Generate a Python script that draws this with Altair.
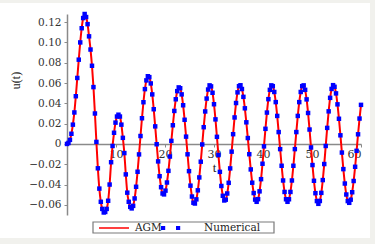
import altair as alt
import pandas as pd

# sample times (step 0.3) and values
t_values = [round(0.3 * i, 1) for i in range(201)]

u_agm = [
    0.0, 0.001, 0.004, 0.010, 0.019, 0.031, 0.047, 0.065, 0.083, 0.100, 0.114, 0.124, 0.128,
    0.125, 0.118, 0.106, 0.093, 0.077, 0.056, 0.030, 0.002, -0.024, -0.044, -0.057, -0.064, -0.0675, -0.067,
    -0.064, -0.056, -0.040, -0.018, -0.002, 0.011, 0.021, 0.027, 0.0288, 0.027,
    0.019, 0.006, -0.009, -0.030, -0.048, -0.057, -0.062, -0.0635,
    -0.061, -0.0537, -0.0422, -0.0274, -0.0103, 0.0078, 0.0253, 0.0411, 0.0540, 0.0626, 0.0667,
    0.0658, 0.0596, 0.0488, 0.0342, 0.0173, -0.0003, -0.0172, -0.0318, -0.0426, -0.0488,
    -0.0497, -0.046, -0.038, -0.0265, -0.0124, 0.003, 0.0184, 0.0325, 0.044, 0.052, 0.0557,
    0.0549, 0.0488, 0.0381, 0.0238, 0.0072, -0.0102, -0.0268, -0.0411, -0.0518, -0.0579,
    -0.0587, -0.0546, -0.0457, -0.0330, -0.0175, -0.0005, 0.0165, 0.0320, 0.0447, 0.0536, 0.0577,
    0.0567, 0.0504, 0.0391, 0.0242, 0.0070, -0.0109, -0.0275, -0.0414, -0.0511, -0.0557,
    -0.0549, -0.0488, -0.0383, -0.0241, -0.0076, 0.0096, 0.0261, 0.0403, 0.0508, 0.0569,
    0.0578, 0.0541, 0.0464, 0.0351, 0.0213, 0.0058, -0.0101, -0.0251, -0.0382, -0.0484, -0.0548,
    -0.0570, -0.0544, -0.0467, -0.0347, -0.0195, -0.0024, 0.0149, 0.0309, 0.0441, 0.0533, 0.0577,
    0.0569, 0.0512, 0.0412, 0.0276, 0.0117, -0.0051, -0.0215, -0.0360, -0.0473, -0.0545,
    -0.0570, -0.0545, -0.0473, -0.0360, -0.0215, -0.0051, 0.0117, 0.0276, 0.0412, 0.0512, 0.0569,
    0.0577, 0.0533, 0.0439, 0.0305, 0.0142, -0.0035, -0.0208, -0.0363, -0.0485, -0.0563,
    -0.0590, -0.0562, -0.0482, -0.0356, -0.0198, -0.0020, 0.0158, 0.0321, 0.0454, 0.0542, 0.0579,
    0.0563, 0.0498, 0.0390, 0.0248, 0.0085, -0.0085, -0.0248, -0.0390, -0.0498, -0.0563,
    -0.0580, -0.0549, -0.0476, -0.0365, -0.0225, -0.0068, 0.0095, 0.0250, 0.0385,
]
u_numerical = list(u_agm)

series_names = ["AGM", "Numerical"]
series_colors = ["#ff0000", "#0000ff"]
x_ticks = [10, 20, 30, 40, 50, 60]
y_ticks = [-0.06, -0.04, -0.02, 0, 0.02, 0.04, 0.06, 0.08, 0.10, 0.12]

agm_df = pd.DataFrame({"t": t_values, "u": u_agm, "series": series_names[0]})
num_df = pd.DataFrame({"t": t_values, "u": u_numerical, "series": series_names[1]})

W, H = 294, 201
SERIF = "DejaVu Serif"
AX = "#8a8a8a"
LEG_FONT = "DejaVu Serif"
LEG_SIZE = 10.5

x_enc = alt.X(
    "t:Q",
    scale=alt.Scale(domain=[0, 60], nice=False, zero=False),
    axis=alt.Axis(
        values=x_ticks, offset=-71, grid=False, title="t", labelOverlap=False,
        titleFont="Liberation Serif", titleFontSize=13, titleFontWeight="normal",
        titleColor="#222", titlePadding=2,
        labelFont=SERIF, labelFontSize=11, labelColor="#333", labelPadding=1,
        tickSize=3, tickColor=AX, domainColor=AX, domainWidth=1.5,
    ),
)
y_enc = alt.Y(
    "u:Q",
    scale=alt.Scale(domain=[-0.070, 0.128], nice=False, zero=False),
    axis=alt.Axis(
        values=y_ticks, grid=False, title="u(t)", labelOverlap=False,
        labelExpr="datum.value == 0 ? '0' : format(datum.value, '.2f')",
        titleFont="Liberation Serif", titleFontSize=12, titleFontWeight="normal",
        titleColor="#222", titleX=-52, titleY=66, titleAngle=270,
        titleAlign="center", titleBaseline="middle",
        labelFont=SERIF, labelFontSize=10.5, labelColor="#333", labelPadding=3,
        tickSize=3, tickColor=AX, domainColor=AX, domainWidth=1.5,
    ),
)

# grey page frame around the white figure (decoration only)
frame = alt.Chart(alt.Data(values=[{}])).mark_rect(
    fill=None, stroke="#f1f1ed", strokeWidth=20
).encode(x=alt.value(-97), x2=alt.value(313), y=alt.value(-21), y2=alt.value(234))

legend_box = alt.Chart(alt.Data(values=[{}])).mark_rect(
    fill="white", stroke="#7a7a7a", strokeWidth=1.2
).encode(x=alt.value(26), x2=alt.value(207), y=alt.value(208), y2=alt.value(219))

line = alt.Chart(agm_df).mark_line(strokeWidth=2, interpolate="monotone").encode(
    x=x_enc,
    y=y_enc,
    color=alt.Color(
        "series:N",
        scale=alt.Scale(domain=[series_names[0]], range=[series_colors[0]]),
        legend=alt.Legend(
            orient="none", legendX=31, legendY=198, title=None,
            symbolType="stroke", symbolSize=900, symbolStrokeWidth=1.5,
            labelFont=LEG_FONT, labelFontSize=LEG_SIZE, labelColor="#222",
            labelOffset=5, padding=0,
        ),
    ),
)

two_squares = "M-1,-0.14H-0.72V0.14H-1Z M0,-0.14H0.28V0.14H0Z"
points = alt.Chart(num_df).mark_point(shape="square", filled=True, size=20, opacity=1).encode(
    x=x_enc,
    y=y_enc,
    color=alt.Color(
        "series:N",
        scale=alt.Scale(domain=[series_names[1]], range=[series_colors[1]]),
        legend=alt.Legend(
            orient="none", legendX=93, legendY=198, title=None,
            symbolType=two_squares, symbolSize=900, symbolOpacity=1,
            labelFont=LEG_FONT, labelFontSize=LEG_SIZE, labelColor="#222",
            labelOffset=12, padding=0,
        ),
    ),
)

chart = (
    alt.layer(frame, legend_box, line, points)
    .resolve_scale(color="independent")
    .resolve_legend(color="independent")
    .properties(
        width=W, height=H,
        autosize=alt.AutoSizeParams(type="none"),
        padding={"left": 67, "top": 14, "right": 14, "bottom": 29},
        background="white",
    )
    .configure_view(stroke=None)
    .configure_axis(labelOverlap=False)
)

chart.save("out.html", embed_options={"renderer": "svg", "actions": False})
